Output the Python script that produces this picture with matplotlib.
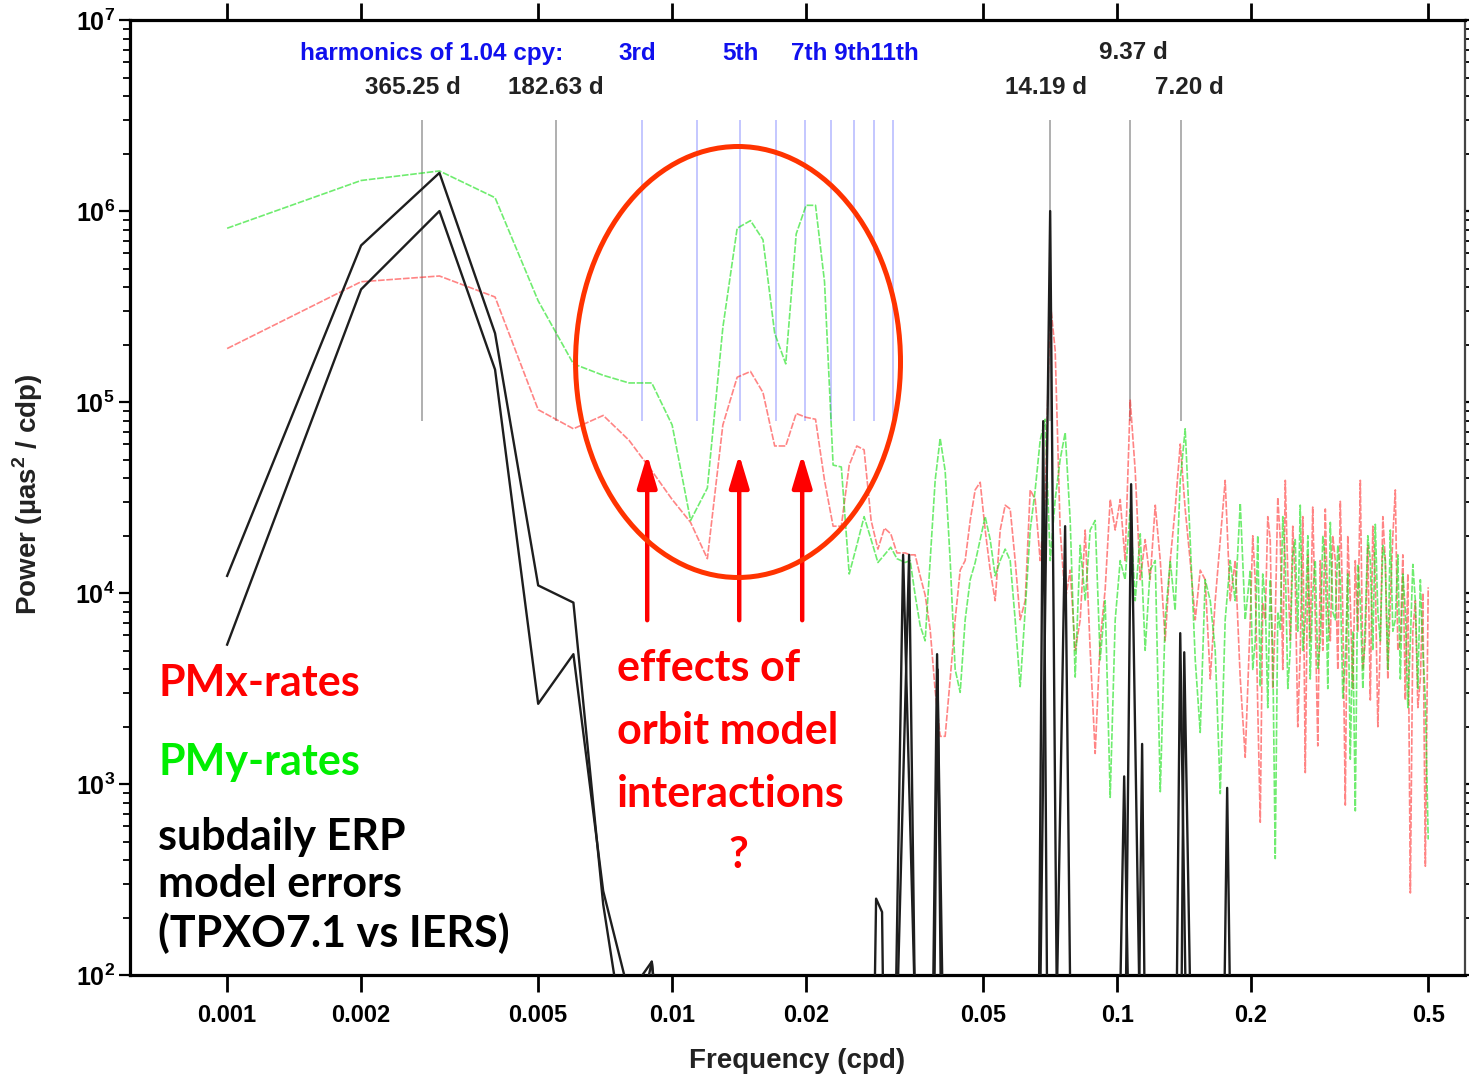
import numpy as np
import matplotlib.pyplot as plt
from matplotlib.patches import Ellipse
from matplotlib.ticker import LogLocator, NullFormatter, NullLocator, FixedLocator, FixedFormatter

plt.rcParams['mathtext.fontset'] = 'custom'
plt.rcParams['mathtext.rm'] = 'Liberation Sans'
plt.rcParams['mathtext.bf'] = 'Liberation Sans:bold'

# ---- data (frequency in cpd, power as log10 of µas²/cpd) ----
low_freq = [0.001, 0.002, 0.003, 0.004, 0.005, 0.006, 0.007, 0.008, 0.009, 0.010,
            0.011, 0.012, 0.013, 0.014, 0.015, 0.016, 0.017, 0.018, 0.019, 0.020,
            0.021, 0.022, 0.023, 0.024, 0.025, 0.026, 0.027, 0.028, 0.029, 0.030,
            0.031, 0.032]
pmx_low = [5.28, 5.63, 5.66, 5.55, 4.96, 4.86, 4.93, 4.80, 4.64, 4.49,
           4.37, 4.18, 4.88, 5.13, 5.16, 5.05, 4.77, 4.77, 4.94, 4.92,
           4.91, 4.59, 4.35, 4.35, 4.67, 4.77, 4.75, 4.38, 4.23, 4.34,
           4.31, 4.21]
pmy_low = [5.91, 6.16, 6.21, 6.07, 5.53, 5.20, 5.14, 5.10, 5.10, 4.88,
           4.38, 4.55, 5.39, 5.91, 5.95, 5.85, 5.36, 5.20, 5.88, 6.03,
           6.03, 5.63, 4.67, 4.66, 4.10, 4.25, 4.40, 4.28, 4.16, 4.20,
           4.24, 4.18]

mid_freq = [0.03339, 0.03427, 0.03516, 0.03608, 0.03703, 0.03800, 0.03900, 0.04002,
            0.04107, 0.04215, 0.04325, 0.04439, 0.04555, 0.04675, 0.04797, 0.04923,
            0.05052, 0.05184, 0.05320, 0.05460, 0.05603, 0.05750, 0.05900, 0.06055,
            0.06214, 0.06377, 0.06544, 0.06715, 0.06891, 0.07072, 0.07257, 0.07447,
            0.07643, 0.07843, 0.08049, 0.08260, 0.08476, 0.08698, 0.08926, 0.09160,
            0.09400, 0.09647, 0.09900, 0.1016, 0.1042, 0.1070, 0.1098, 0.1127,
            0.1156, 0.1186, 0.1218, 0.1250, 0.1282, 0.1316, 0.1350, 0.1386,
            0.1422, 0.1459, 0.1498, 0.1537, 0.1577, 0.1619, 0.1661, 0.1705,
            0.1749, 0.1795, 0.1842, 0.1891, 0.1940]
pmx_mid = [4.21, 4.20, 4.20, 4.09, 3.99, 3.81, 3.49, 3.25, 3.25, 3.55, 3.86, 4.12,
           4.17, 4.38, 4.54, 4.58, 4.33, 4.12, 3.96, 4.33, 4.46, 4.44, 4.17, 3.86,
           3.96, 4.54, 4.49, 4.17, 4.49, 5.53, 5.27, 4.33, 3.96, 4.12, 3.70, 3.86,
           4.33, 3.70, 3.16, 3.75, 4.02, 4.49, 4.33, 4.49, 4.17, 5.01, 4.64, 4.07,
           4.28, 4.07, 4.46, 4.17, 3.75, 4.17, 4.44, 4.78, 4.44, 4.17, 3.86, 4.12,
           4.07, 3.55, 3.96, 4.28, 4.59, 3.96, 4.17, 3.55, 3.14]
pmy_mid = [4.16, 4.17, 3.99, 3.83, 3.75, 4.17, 4.59, 4.81, 4.64, 4.17, 3.60, 3.48,
           3.86, 4.07, 4.16, 4.28, 4.40, 4.28, 4.09, 4.17, 4.23, 4.17, 3.86, 3.51,
           3.91, 4.33, 4.54, 4.80, 4.91, 4.17, 4.49, 4.70, 4.84, 4.38, 3.56, 4.25,
           3.96, 4.33, 4.38, 3.65, 3.96, 2.93, 3.86, 4.17, 4.07, 4.44, 3.96, 4.31,
           3.70, 4.12, 4.17, 2.96, 3.86, 4.17, 3.91, 4.59, 4.86, 4.28, 3.65, 3.27,
           4.07, 3.96, 3.70, 2.95, 3.86, 4.17, 3.96, 4.47, 3.86]

dense_freq = [0.1991, 0.2017, 0.2043, 0.2070, 0.2097, 0.2124, 0.2152, 0.2180, 0.2208,
              0.2237, 0.2266, 0.2296, 0.2326, 0.2356, 0.2387, 0.2418, 0.2449, 0.2481,
              0.2513, 0.2546, 0.2579, 0.2613, 0.2647, 0.2682, 0.2716, 0.2751, 0.2788,
              0.2824, 0.2861, 0.2898, 0.2936, 0.2974, 0.3013, 0.3052, 0.3092, 0.3132,
              0.3173, 0.3214, 0.3256, 0.3298, 0.3341, 0.3385, 0.3429, 0.3474, 0.3519,
              0.3565, 0.3611, 0.3658, 0.3706, 0.3754, 0.3803, 0.3853, 0.3903, 0.3954,
              0.4005, 0.4057, 0.4110, 0.4164, 0.4218, 0.4273, 0.4329, 0.4385, 0.4442,
              0.4500, 0.4559, 0.4618, 0.4678, 0.4739, 0.4801, 0.4864, 0.4927, 0.5000]
pmx_dense = [3.86, 4.30, 4.07, 3.40, 2.80, 3.95, 3.86, 4.40, 4.28, 3.50, 3.86, 4.50,
             4.28, 3.60, 4.59, 4.10, 3.75, 4.35, 4.07, 3.30, 3.70, 4.40, 3.06, 4.20,
             3.75, 4.45, 3.86, 3.20, 4.17, 3.70, 4.44, 3.90, 3.75, 4.30, 4.17, 3.60,
             4.48, 3.90, 2.89, 4.30, 3.96, 3.50, 4.17, 3.80, 4.59, 3.60, 3.75, 4.25,
             3.44, 4.35, 4.07, 3.30, 3.75, 4.40, 4.17, 3.55, 3.96, 4.30, 4.54, 3.70,
             3.75, 4.20, 3.44, 4.10, 2.43, 3.80, 3.96, 3.40, 3.55, 4.00, 2.57, 4.03]
pmy_dense = [4.12, 3.60, 3.75, 4.30, 3.51, 4.10, 3.96, 3.40, 4.07, 3.70, 2.61, 3.90,
             3.81, 4.40, 4.17, 3.50, 3.70, 4.20, 4.28, 3.80, 4.46, 3.70, 3.86, 4.30,
             3.55, 4.00, 4.17, 3.60, 3.75, 4.30, 4.17, 3.50, 4.37, 3.90, 3.86, 4.25,
             4.07, 3.45, 3.65, 4.10, 3.13, 3.80, 2.86, 4.15, 3.96, 3.50, 3.86, 4.30,
             4.17, 3.70, 4.36, 3.90, 3.75, 4.25, 4.17, 3.60, 4.33, 3.80, 3.86, 4.20,
             3.55, 4.10, 3.91, 3.40, 3.75, 4.15, 3.96, 3.50, 4.07, 3.70, 3.44, 2.71]

# subdaily ERP model errors (values of 1.0 lie below the plotted range)
erp_a_freq = [0.001, 0.002, 0.003, 0.004, 0.005, 0.006, 0.007, 0.008, 0.009, 0.010,
              0.02815, 0.02873, 0.02963, 0.03010, 0.03138, 0.03304, 0.03590,
              0.03820, 0.03939, 0.04108, 0.06645, 0.07071, 0.07371, 0.1037, 0.1075,
              0.1138, 0.1350, 0.1386, 0.1444, 0.1722, 0.1767, 0.1814, 0.5]
erp_a_pow = [4.09, 5.82, 6.20, 5.36, 4.04, 3.95, 2.37, 1.50, 2.07, 1.00,
             1.00, 2.40, 2.33, 1.00, 1.00, 4.20, 1.00,
             1.00, 3.68, 1.00, 1.00, 6.00, 1.00, 1.00, 4.57,
             1.00, 1.00, 3.79, 1.00, 1.00, 2.98, 1.00, 1.00]
erp_b_freq = [0.001, 0.002, 0.003, 0.004, 0.005, 0.006, 0.007, 0.008, 0.009, 0.010,
              0.03138, 0.03408, 0.0355, 0.0385, 0.0395, 0.0405, 0.0663, 0.06821,
              0.0700, 0.0721, 0.0764, 0.0792, 0.1000, 0.1037, 0.1075, 0.1109,
              0.1138, 0.1162, 0.1386, 0.1415, 0.1482, 0.5]
erp_b_pow = [3.73, 5.59, 6.00, 5.17, 3.42, 3.68, 2.44, 1.90, 2.07, 1.00,
             1.00, 4.20, 1.00, 1.00, 3.60, 1.00, 1.00, 4.90,
             1.00, 1.00, 4.35, 1.00, 1.00, 3.04, 1.00, 1.00,
             3.21, 1.00, 1.00, 3.69, 1.00, 1.00]

periods_days = [365.25, 182.63, 14.19, 9.37, 7.20]
harmonic_orders = [3, 4, 5, 6, 7, 8, 9, 10, 11]
base_cpy = 1.04

xticks = [0.001, 0.002, 0.005, 0.01, 0.02, 0.05, 0.1, 0.2, 0.5]
xtick_labels = ['0.001', '0.002', '0.005', '0.01', '0.02', '0.05', '0.1', '0.2', '0.5']
yticks = [1e2, 1e3, 1e4, 1e5, 1e6, 1e7]
ytick_labels = [r'$\mathregular{10^{%d}}$' % e for e in range(2, 8)]

sans = ['Liberation Sans', 'DejaVu Sans']
callout = ['Lato', 'DejaVu Sans']

fig = plt.figure(figsize=(14.69, 10.78), dpi=100)
ax = fig.add_axes([0.0885, 0.0955, 0.9088, 0.8859])
ax.set_xscale('log')
ax.set_yscale('log')
ax.set_xlim(0.000605, 0.605)
ax.set_ylim(1e2, 1e7)

# reference lines
for p in periods_days:
    ax.vlines(1.0 / p, 8.0e4, 3.0e6, color='#9a9a9a', lw=1.1, zorder=1)
for n in harmonic_orders:
    ax.vlines(n * base_cpy / 365.25, 8.0e4, 3.0e6, color='#b4b8ff', lw=1.1, zorder=1)

fx = np.array(low_freq + mid_freq + dense_freq)
pmx = 10 ** np.array(pmx_low + pmx_mid + pmx_dense)
pmy = 10 ** np.array(pmy_low + pmy_mid + pmy_dense)
ax.plot(fx, pmx, color='#ff2020', alpha=0.55, lw=1.2, ls=(0, (4, 1)), zorder=2)
ax.plot(fx, pmy, color='#10e010', alpha=0.6, lw=1.2, ls=(0, (4, 1)), zorder=3)

ax.plot(erp_a_freq, 10 ** np.array(erp_a_pow), color='#1e1e1e', lw=1.7, zorder=4)
ax.plot(erp_b_freq, 10 ** np.array(erp_b_pow), color='#1e1e1e', lw=1.7, zorder=4)

# axes styling
ax.xaxis.set_major_locator(FixedLocator(xticks))
ax.xaxis.set_major_formatter(FixedFormatter(xtick_labels))
ax.xaxis.set_minor_locator(NullLocator())
ax.yaxis.set_major_locator(FixedLocator(yticks))
ax.yaxis.set_major_formatter(FixedFormatter(ytick_labels))
ax.yaxis.set_minor_locator(LogLocator(base=10, subs=np.arange(2, 10), numticks=20))
ax.yaxis.set_minor_formatter(NullFormatter())
ax.tick_params(axis='x', which='major', direction='out', length=12, width=2,
               top=True, bottom=True, pad=9, labelsize=17)
ax.tick_params(axis='y', which='major', direction='out', length=8, width=1.6,
               left=True, right=True, pad=3, labelsize=18)
ax.tick_params(axis='y', which='minor', direction='out', length=5, width=1.3,
               left=True, right=True)
for lab in ax.get_xticklabels() + ax.get_yticklabels():
    lab.set_family(sans)
    lab.set_fontweight('bold')
for side in ['left', 'bottom', 'top']:
    ax.spines[side].set_linewidth(2.3)
ax.spines['right'].set_linewidth(1.6)
ax.spines['right'].set_color('#444444')

fig.text(0.5425, 0.016, 'Frequency (cpd)', ha='center', va='center', fontsize=20,
         family=sans, fontweight='bold', color='#222222')
fig.text(0.019, 0.541, 'Power (µas$^\\mathbf{2}$ / cdp)', ha='center', va='center',
         fontsize=20, rotation=90, family=sans, fontweight='bold', color='#222222')

# top labels
blue = '#1010ee'
lab_kw = dict(ha='center', va='center', fontsize=17.5, fontweight='bold', family=sans,
              transform=ax.transAxes)
ax.text(0.2262, 0.9654, 'harmonics of 1.04 cpy:', color=blue, **lab_kw)
ax.text(0.3798, 0.9654, '3rd', color=blue, **lab_kw)
ax.text(0.4569, 0.9654, '5th', color=blue, **lab_kw)
ax.text(0.5431, 0.9654, '7th 9th11th', color=blue, **lab_kw)
ax.text(0.7513, 0.9665, '9.37 d', color='#222222', **lab_kw)
ax.text(0.2120, 0.9298, '365.25 d', color='#222222', **lab_kw)
ax.text(0.3191, 0.9298, '182.63 d', color='#222222', **lab_kw)
ax.text(0.6861, 0.9298, '14.19 d', color='#222222', **lab_kw)
ax.text(0.7933, 0.9298, '7.20 d', color='#222222', **lab_kw)

# annotations
fig.patches.append(Ellipse((0.5024, 0.6642), 0.2212, 0.3998, transform=fig.transFigure,
                           fill=False, ec='#ff3300', lw=3.6, zorder=10))
for fa in [0.00879, 0.01415, 0.0196]:
    ax.annotate('', xy=(fa, 5.5e4), xytext=(fa, 6.97e3),
                arrowprops=dict(arrowstyle='-|>,head_width=0.3,head_length=1.0',
                                mutation_scale=20, lw=3.2, color='#ff0000'),
                zorder=11)

big = 31
fig.text(0.1076, 0.3664, 'PMx-rates', color='#ff0000', fontsize=big, fontweight='bold',
         family=callout, ha='left', va='center')
fig.text(0.1076, 0.2931, 'PMy-rates', color='#00ee00', fontsize=big, fontweight='bold',
         family=callout, ha='left', va='center')
fig.text(0.1076, 0.1786, 'subdaily ERP\nmodel errors\n(TPXO7.1 vs IERS)', color='black',
         fontsize=big, fontweight='bold', family=callout, ha='left', va='center',
         linespacing=1.22)
fig.text(0.42, 0.3219, 'effects of\norbit model\ninteractions', color='#ff0000',
         fontsize=big, fontweight='bold', family=callout, ha='left', va='center',
         linespacing=1.69)
fig.text(0.5024, 0.2069, '?', color='#ff0000', fontsize=big, fontweight='bold',
         family=callout, ha='center', va='center')

fig.savefig('out.png', dpi=100)
